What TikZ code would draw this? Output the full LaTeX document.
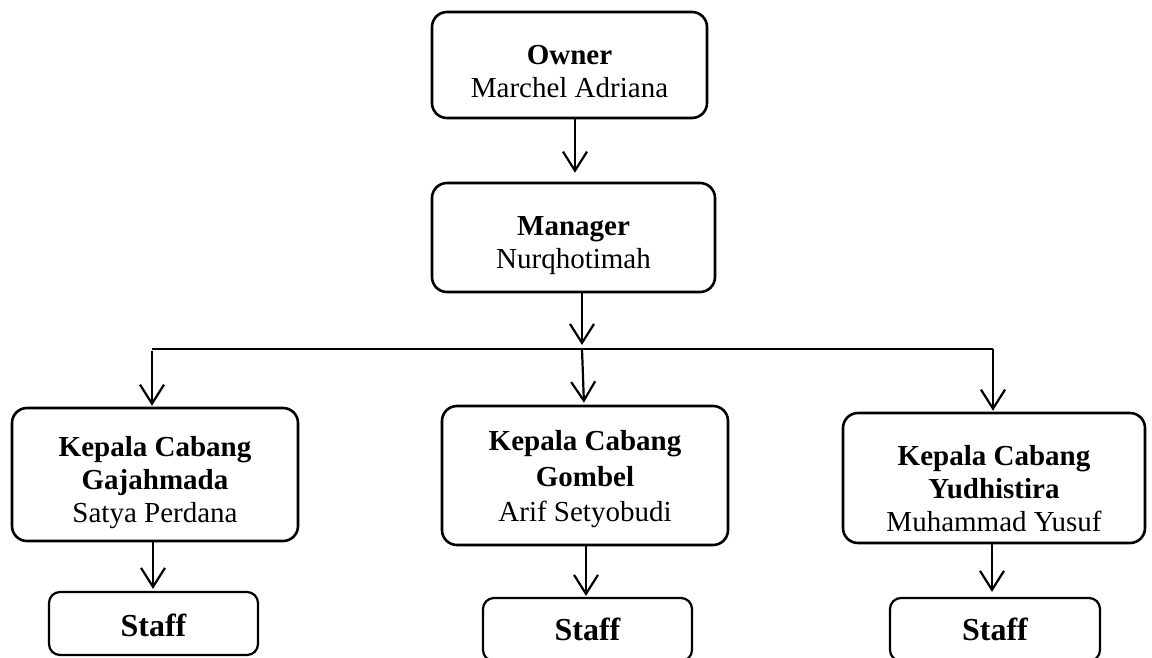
\documentclass[tikz,border=0pt]{standalone}
\usepackage{fontspec}
\setmainfont{Liberation Serif}
\usetikzlibrary{arrows.meta}
\newcommand{\lift}[1]{\rule{0pt}{#1}}
\begin{document}
\begin{tikzpicture}[x=1pt,y=-1pt,
  box/.style={draw,line width=2.6pt,rounded corners=15pt,align=center,inner sep=0pt,
    font=\fontsize{29}{33}\selectfont},
  staffbox/.style={draw,line width=2.2pt,rounded corners=11pt,align=center,inner sep=0pt,
    font=\fontsize{32}{36}\selectfont\bfseries},
  arr/.style={line width=2.2pt,-{Straight Barb[length=19pt,width=24pt,line width=2.2pt]}},
  bus/.style={line width=1.6pt}]
\useasboundingbox (0,0) rectangle (1152,657);
\clip (0,0) rectangle (1152,657);
\node[box,minimum width=275pt,minimum height=106pt] (owner) at (569.5,65) {\lift{32pt}\textbf{Owner}\\Marchel Adriana};
\node[box,minimum width=283pt,minimum height=109pt] (manager) at (573.5,237.5) {\lift{36pt}\textbf{Manager}\\Nurqhotimah};
\node[box,minimum width=286pt,minimum height=133pt] (kg) at (155,474.5) {\lift{37pt}\textbf{Kepala Cabang}\\\textbf{Gajahmada}\\Satya Perdana};
\node[box,minimum width=286pt,minimum height=139pt] (kb) at (585,475.5) {\lift{28pt}\textbf{Kepala Cabang}\\[3pt]\textbf{Gombel}\\[2pt]Arif Setyobudi};
\node[box,minimum width=302pt,minimum height=130pt] (ky) at (994,478) {\lift{41pt}\textbf{Kepala Cabang}\\\textbf{Yudhistira}\\Muhammad Yusuf};
\node[staffbox,minimum width=209pt,minimum height=63pt] (sg) at (153.5,623.5) {\lift{27pt}Staff};
\node[staffbox,minimum width=209pt,minimum height=63pt] (sb) at (587.5,629.5) {Staff};
\node[staffbox,minimum width=210pt,minimum height=63pt] (sy) at (995,629.5) {Staff};
\coordinate (busL) at (152,349);
\coordinate (busR) at (993,349);
\coordinate (busM) at (582,349);
\draw[bus] (busL) -- (busR);
\draw[arr,shorten >=9pt] (owner.south -| 575,0) -- (manager.north -| 575,0);
\draw[arr,shorten >=4pt] (manager.south -| busM) -- (busM);
\draw[arr,shorten <=2pt,shorten >=1pt] (busL) -- (kg.north -| busL);
\draw[arr,shorten >=2pt] (busM) -- (kb.north -| 584,0);
\draw[arr,shorten >=1pt] (busR) -- (ky.north -| busR);
\draw[arr,shorten >=2pt] (kg.south -| 153,0) -- (sg.north -| 153,0);
\draw[arr,shorten >=1pt] (kb.south -| 586,0) -- (sb.north -| 586,0);
\draw[arr,shorten >=5pt] (ky.south -| 992,0) -- (sy.north -| 992,0);
\end{tikzpicture}
\end{document}
